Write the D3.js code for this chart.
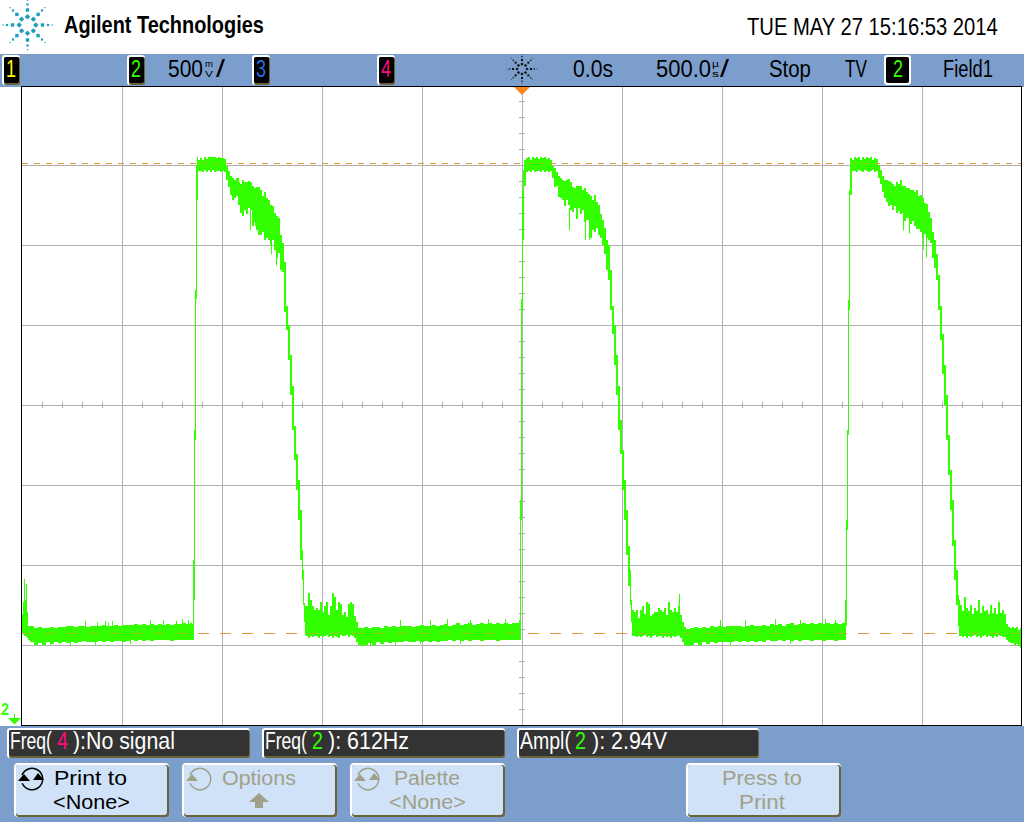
<!DOCTYPE html>
<html><head><meta charset="utf-8">
<script src="https://cdn.jsdelivr.net/npm/d3@7/dist/d3.min.js"></script>
<style>html,body{margin:0;padding:0;background:#fff;overflow:hidden}svg{display:block}text{font-family:"Liberation Sans",Arial,sans-serif}</style>
</head><body><svg id="c" width="1024" height="822"></svg>
<script>
// Channel 2 trace: [time in microseconds, upper edge in volts, lower edge in volts]
const trace1=[[-2500,.66,.54],[-2495,.74,.54],[-2490,.88,.525],[-2485,.75,.525],[-2480,.85,.52],[-2475,.675,.51],[-2470,.59,.50],[-2460,.585,.49],[-2440,.575,.47],[-2420,.58,.48],[-2400,.575,.47],[-2380,.575,.49],[-2360,.58,.475],[-2340,.575,.49],[-2320,.58,.48],[-2300,.58,.49],[-2280,.59,.48],[-2260,.585,.49],[-2240,.58,.48],[-2220,.59,.49],[-2200,.585,.495],[-2180,.58,.49],[-2160,.59,.49],[-2140,.59,.49],[-2120,.59,.495],[-2100,.595,.49],[-2080,.585,.495],[-2060,.59,.49],[-2040,.595,.495],[-2020,.59,.495],[-2000,.595,.49],[-1980,.595,.495],[-1960,.595,.50],[-1940,.60,.495],[-1920,.595,.50],[-1900,.60,.495],[-1880,.595,.50],[-1860,.60,.495],[-1840,.595,.50],[-1820,.60,.50],[-1800,.595,.50],[-1780,.60,.50],[-1760,.595,.495],[-1740,.60,.50],[-1720,.60,.50],[-1700,.605,.50],[-1680,.60,.50],[-1660,.605,.50],[-1650,.60,.50],
[-1645,1.0,.50],[-1640,1.81,.75],[-1635,2.69,1.75],[-1630,3.47,2.63],[-1625,3.52,3.25],[-1620,3.50,3.43],[-1610,3.51,3.43],[-1600,3.50,3.425],[-1590,3.52,3.44],[-1580,3.505,3.425],[-1570,3.52,3.44],[-1560,3.52,3.425],[-1550,3.52,3.44],[-1540,3.52,3.425],[-1530,3.51,3.43],[-1520,3.52,3.43],[-1510,3.51,3.425],[-1500,3.51,3.43],[-1490,3.505,3.425],
[-1480,3.46,3.375],[-1470,3.43,3.33],[-1460,3.40,3.28],[-1450,3.39,3.25],[-1440,3.375,3.26],[-1430,3.39,3.275],[-1420,3.36,3.22],[-1410,3.35,3.17],[-1400,3.375,3.15],[-1390,3.36,3.19],[-1380,3.36,3.16],[-1370,3.37,3.20],[-1360,3.36,3.19],[-1350,3.34,3.09],[-1340,3.325,3.11],[-1330,3.33,3.06],[-1320,3.33,3.03],[-1310,3.31,3.03],[-1300,3.275,3.05],[-1290,3.30,3.00],[-1280,3.26,3.01],[-1270,3.25,3.00],[-1260,3.22,2.97],[-1250,3.21,3.00],[-1240,3.17,2.94],[-1230,3.15,2.89],[-1220,3.14,2.92],[-1210,3.03,2.81],[-1200,2.98,2.80],[-1190,2.86,2.55],[-1180,2.59,2.44],[-1170,2.47,2.25],[-1160,2.28,2.03],[-1150,2.09,1.81],[-1140,1.84,1.625],[-1130,1.66,1.44],[-1120,1.50,1.25],[-1110,1.31,1.00],[-1100,1.06,.875],[-1095,.94,.72],[-1090,.73,.61],[-1085,.71,.53],
[-1080,.71,.525],[-1070,.795,.51],[-1060,.75,.525],[-1050,.71,.52],[-1040,.69,.525],[-1030,.70,.525],[-1020,.69,.51],[-1010,.735,.525],[-1000,.675,.52],[-990,.71,.525],[-980,.74,.53],[-970,.655,.52],[-960,.71,.525],[-950,.795,.51],[-940,.77,.525],[-930,.69,.52],[-920,.735,.51],[-910,.725,.53],[-900,.655,.525],[-890,.675,.525],[-880,.645,.53],[-870,.725,.52],[-860,.735,.53],[-850,.725,.525],[-840,.65,.51],[-830,.61,.49],[-820,.575,.47],[-810,.575,.46],
[-790,.58,.47],[-770,.575,.48],[-750,.58,.47],[-730,.58,.49],[-710,.575,.475],[-690,.585,.49],[-670,.58,.48],[-650,.585,.49],[-630,.58,.485],[-610,.59,.49],[-590,.585,.495],[-570,.59,.49],[-550,.58,.49],[-530,.59,.495],[-510,.595,.49],[-490,.585,.495],[-470,.59,.49],[-450,.595,.495],[-430,.59,.49],[-410,.595,.495],[-390,.60,.495],[-370,.59,.50],[-350,.595,.495],[-330,.605,.50],[-310,.595,.495],[-290,.60,.50],[-270,.605,.495],[-250,.595,.50],[-230,.60,.50],[-210,.605,.495],[-190,.60,.50],[-170,.605,.50],[-150,.60,.50],[-130,.605,.495],[-110,.60,.50],[-90,.605,.50],[-70,.60,.50],[-50,.605,.50]];
const trace2=[[-30,.605,.50],[-15,.625,.50],[-10,1.375,.50],[-5,2.63,1.25],[0,3.31,2.56],[5,3.44,3.00],[10,3.50,3.34],[20,3.51,3.425],[30,3.52,3.43],[40,3.50,3.425],[50,3.52,3.44],[60,3.51,3.425],[70,3.52,3.43],[80,3.505,3.43],[90,3.52,3.425],[100,3.51,3.44],[110,3.52,3.425],[120,3.505,3.43],[130,3.51,3.425],[140,3.50,3.43],
[150,3.46,3.39],[160,3.45,3.33],[170,3.425,3.34],[180,3.40,3.27],[190,3.39,3.26],[200,3.375,3.25],[210,3.37,3.21],[220,3.375,3.25],[230,3.38,3.22],[240,3.36,3.19],[250,3.33,3.175],[260,3.325,3.20],[270,3.34,3.13],[280,3.34,3.20],[290,3.34,3.16],[300,3.31,3.19],[310,3.325,3.11],[320,3.30,3.125],[330,3.29,3.125],[340,3.275,3.01],[350,3.25,3.06],[360,3.28,3.05],[370,3.24,3.075],[380,3.22,3.03],[390,3.16,3.01],[400,3.125,2.97],[410,3.075,2.91],[420,3.00,2.81],[430,2.97,2.75],[440,2.81,2.56],[450,2.59,2.41],[460,2.47,2.22],[470,2.28,2.03],[480,2.09,1.81],[490,1.875,1.66],[500,1.69,1.44],[510,1.50,1.25],[520,1.31,1.03],[530,1.09,.84],[540,.94,.72],[545,.75,.61],
[550,.69,.525],[560,.675,.525],[570,.69,.52],[580,.64,.525],[590,.69,.52],[600,.71,.525],[610,.66,.53],[620,.735,.52],[630,.725,.525],[640,.65,.51],[650,.665,.525],[660,.675,.53],[670,.675,.52],[680,.70,.525],[690,.69,.525],[700,.675,.51],[710,.70,.525],[720,.655,.52],[730,.74,.525],[740,.69,.51],[750,.675,.525],[760,.70,.52],[770,.675,.525],[780,.715,.53],[785,.79,.525],[790,.655,.51],[800,.61,.49],[810,.58,.47],[820,.57,.46],
[840,.575,.47],[860,.58,.48],[880,.575,.47],[900,.58,.485],[920,.575,.475],[940,.585,.49],[960,.58,.48],[980,.59,.485],[1000,.58,.49],[1020,.585,.485],[1040,.59,.49],[1060,.585,.495],[1080,.59,.49],[1100,.58,.495],[1120,.59,.49],[1140,.595,.495],[1160,.585,.49],[1180,.59,.495],[1200,.595,.49],[1220,.59,.50],[1240,.60,.495],[1260,.595,.495],[1280,.60,.50],[1300,.59,.495],[1320,.60,.50],[1340,.605,.495],[1360,.595,.50],[1380,.60,.495],[1400,.605,.50],[1420,.60,.50],[1440,.605,.495],[1460,.60,.50],[1480,.605,.50],[1500,.60,.495],[1520,.605,.50],[1540,.60,.50],[1560,.605,.495],[1580,.60,.50],[1600,.605,.50]];
const trace3=[[1615,.75,.50],[1620,1.25,.59],[1625,1.81,1.19],[1630,2.625,1.78],[1635,3.31,2.56],[1640,3.515,3.28],[1650,3.50,3.43],[1660,3.52,3.43],[1670,3.51,3.425],[1680,3.52,3.44],[1690,3.50,3.43],[1700,3.52,3.425],[1710,3.505,3.44],[1720,3.52,3.43],[1730,3.51,3.425],[1740,3.52,3.43],[1750,3.50,3.44],[1760,3.515,3.425],[1770,3.505,3.43],
[1780,3.47,3.39],[1790,3.44,3.35],[1800,3.40,3.30],[1810,3.375,3.26],[1820,3.375,3.24],[1830,3.37,3.21],[1840,3.36,3.22],[1850,3.35,3.19],[1860,3.34,3.21],[1870,3.36,3.17],[1880,3.35,3.18],[1890,3.375,3.16],[1900,3.34,3.17],[1910,3.34,3.12],[1920,3.325,3.135],[1930,3.325,3.135],[1940,3.31,3.10],[1950,3.31,3.12],[1960,3.30,3.085],[1970,3.31,3.07],[1980,3.275,3.07],[1990,3.28,3.05],[2000,3.26,3.01],[2010,3.23,3.035],[2020,3.225,3.01],[2030,3.175,3.00],[2040,3.14,2.98],[2050,3.05,2.89],[2060,3.00,2.825],[2070,2.91,2.75],[2080,2.78,2.56],[2090,2.59,2.375],[2100,2.41,2.16],[2110,2.22,1.97],[2120,2.03,1.75],[2130,1.78,1.53],[2140,1.56,1.31],[2150,1.375,1.09],[2160,1.125,.875],[2170,.94,.72],[2180,.78,.59],[2185,.75,.525],
[2190,.72,.525],[2200,.68,.52],[2210,.77,.525],[2220,.70,.51],[2230,.68,.525],[2240,.72,.52],[2250,.66,.525],[2260,.70,.53],[2270,.68,.52],[2280,.75,.525],[2290,.67,.51],[2300,.71,.525],[2310,.68,.53],[2320,.69,.52],[2330,.66,.525],[2340,.72,.525],[2350,.67,.51],[2360,.70,.525],[2370,.66,.52],[2380,.74,.53],[2390,.67,.525],[2400,.69,.52],[2410,.66,.52],[2420,.60,.50],[2430,.58,.49],[2440,.575,.48],[2450,.58,.48],[2460,.575,.47],[2470,.58,.475],[2480,.56,.46],[2490,.575,.45],[2500,.57,.45]];
// Single-sample glitches that stick out of the band: [time us, volts, volts]
const glitches=[[-2185,.62,.55],[-2125,.61,.55],[-2085,.62,.55],[-2070,.61,.55],[-2050,.62,.55],[-1860,.625,.55],[-1795,.625,.55],[-1730,.62,.55],[-1700,.63,.55],[-1670,.625,.55],[-610,.625,.55],[-460,.625,.55],[-375,.63,.55],[-260,.625,.55],[-170,.63,.55],[-85,.63,.55],[990,.625,.55],[1115,.625,.55],[1265,.63,.55],[1390,.625,.55],[1515,.63,.55],[1565,.625,.55],
[-2360,.55,.47],[-2260,.55,.46],[-2135,.55,.47],[-1960,.55,.475],[-760,.55,.46],[-635,.55,.47],[-510,.55,.475],[-310,.55,.475],[890,.55,.46],[1040,.55,.47],[1340,.55,.475],
[-1360,3.25,3.06],[-1335,3.19,3.09],[-1255,3.00,2.91],[-1230,3.00,2.84],[-1420,3.39,3.30],[235,3.20,3.06],[315,3.19,3.00],[335,3.20,3.00],[1905,3.22,3.06],[1935,3.20,3.04],[1965,3.20,3.09],[2005,3.06,2.94],[2020,3.05,2.89]];
const yTicks=[-.03125,.46875,.96875,1.46875,1.96875,2.46875,2.96875,3.46875,3.96875];
const xTicks=[-2000,-1500,-1000,-500,0,500,1000,1500,2000];
const cursorLevels=[3.48,0.544];
const channels=[["1","#ffff00"],["2","#33ff00"],["3","#2a6ae0"],["4","#ff0a80"]];
const meas=[["Freq(","4",":No signal"],["Freq(","2",": 612Hz"],["Ampl(","2",": 2.94V"]];
const softkeys=[["Print to","<None>"],["Options",""],["Palette","<None>"],["Press to","Print"]];
const headerTitle="Agilent Technologies",headerDate="TUE MAY 27 15:16:53 2014";

const svg=d3.select("#c");
const T="#000",BLUE="#7b9ecc",OLIVE="#6a6238",GREEN="#33ff00",GREY="#a0a088",ORANGE="#e8963c";
const x=d3.scaleLinear().domain([-2500,2500]).range([22,1022]);
const y=d3.scaleLinear().domain([-.03125,3.96875]).range([725,85]);
const rect=(a,b,w,h,f,r)=>svg.append("rect").attr("x",a).attr("y",b).attr("width",w).attr("height",h).attr("fill",f).attr("rx",r||0);
// text squeezed horizontally to its measured width on the screen
function txt(s,a,b,w,size,fill,weight){const t=svg.append("text").attr("font-size",size).attr("fill",fill||T)
 .attr("font-weight",weight||400).text(s);const n=t.node().getComputedTextLength()||w;
 t.attr("transform",`translate(${a},${b}) scale(${w/n},1)`);return t;}

// frame
rect(0,54,1024,33,BLUE);rect(0,726,1024,96,BLUE);
// grid via axes
const g=svg.append("g");
const grid=(sel,ax)=>{sel.call(ax);sel.select(".domain").remove();sel.selectAll("line").attr("stroke","#b0b0b0");};
grid(g.append("g").attr("transform","translate(0,725)"),d3.axisTop(x).tickValues(xTicks).tickSize(639).tickFormat(""));
grid(g.append("g").attr("transform","translate(22,0)"),d3.axisRight(y).tickValues(yTicks.slice(1,-1)).tickSize(999).tickFormat(""));
const subX=d3.range(-2500,2501,100).filter(v=>v%500),subY=d3.range(-.03125,3.97,.1).filter((v,i)=>i%5);
const cy=y(1.96875),cx=x(0);
[d3.axisBottom,d3.axisTop].forEach(a=>grid(g.append("g").attr("transform",`translate(0,${cy})`),a(x).tickValues(subX).tickSize(3).tickFormat("")));
[d3.axisRight,d3.axisLeft].forEach(a=>grid(g.append("g").attr("transform",`translate(${cx},0)`),a(y).tickValues(subY).tickSize(3).tickFormat("")));
// cursors: solid on white, faint where they cross the trace
const cursor=(op)=>cursorLevels.forEach((v,i)=>svg.append("line").attr("x1",22).attr("x2",1021).attr("y1",Math.round(y(v))+.5).attr("y2",Math.round(y(v))+.5)
 .attr("stroke",ORANGE).attr("stroke-opacity",op).attr("stroke-width",1).attr("stroke-dasharray",i?"11 11":"6 6").attr("shape-rendering","crispEdges"));
cursor(1);
// trace
const rows=[...trace1,...trace2,...trace3];
svg.append("path").datum(rows).attr("fill",GREEN).attr("stroke","none").attr("shape-rendering","crispEdges")
 .attr("d",d3.area().x(d=>x(d[0])).y0(d=>y(d[2])).y1(d=>y(d[1])).curve(d3.curveStepAfter));
svg.append("g").selectAll("line").data(glitches).join("line").attr("x1",d=>x(d[0])+.5).attr("x2",d=>x(d[0])+.5)
 .attr("y1",d=>y(d[1])).attr("y2",d=>y(d[2])).attr("stroke",GREEN).attr("stroke-width",1);
cursor(.55);
// plot border
rect(21,86,1000,1,"#000");rect(21,725,1001,1,"#000");rect(21,86,1,640,"#000");rect(1021,86,1,640,"#000");

// trigger marker and ground marker
svg.append("path").attr("fill","#f5891e").attr("d","M514 87H530L522 95Z");
svg.append("path").attr("fill",GREEN).attr("d","M8 718H21L14.5 724.5Z");
svg.append("rect").attr("x",14).attr("y",714).attr("width",1).attr("height",5).attr("fill",GREEN);
txt("2",1,715,8,16,GREEN,700);

// logos
function star(cx0,cy0,sc,col){const rings=[[8.3,2.7,1],[15,3.4,0],[20.5,2.2,0],[24.6,1.2,0]];
 const gs=svg.append("g").attr("fill",col);
 rings.forEach(([r,s,diamond])=>d3.range(8).forEach(k=>{const a=k*Math.PI/4,px=cx0+sc*r*Math.cos(a),py=cy0+sc*r*Math.sin(a),w=s*sc;
  if(diamond)gs.append("path").attr("d",`M${px-w} ${py}L${px} ${py-w}L${px+w} ${py}L${px} ${py+w}Z`);
  else gs.append("rect").attr("x",px-w/2).attr("y",py-w/2).attr("width",w).attr("height",w);}));}
star(27.5,25,1,"#1f9dbd");star(522,69,.6,"#111");
txt(headerTitle,64,33,200,23,"#000",700);
txt(headerDate,747,35,251,24,"#000");

// channel boxes
function chan(a,w,label,col){rect(a,55,w,30,"#fff",3);rect(a+2,57,w-2,28,OLIVE,2);rect(a+2,57,w-3,26,"#000",2);
 txt(label,a+(w-10)/2,77,10,24,col);}
[2,127,252,377].forEach((a,i)=>chan(a,18,channels[i][0],channels[i][1]));
rect(884,55,27,30,"#fff",3);rect(886,57,23,26,"#000",2);txt("2",893,77,10,24,GREEN);

// top bar text
txt("500",168,77,35,24);txt("m",205,67,8,9);txt("V",205,77,8,9);txt("/",216,77,9,24);
txt("0.0s",573,77,40,24);txt("500.0",656,77,55,24);txt("\u00b5",712,67,7,9);txt("s",712,77,7,9);txt("/",720,77,9,24);
txt("Stop",769,77,42,24);txt("TV",845,77,22,24);txt("Field1",943,77,50,24);

// measurement boxes
function measure(a,w,m,p){const [A,B,C]=m,col=B==="4"?"#ff0a80":GREEN;
 rect(a,728,w,30,"#fff",3);rect(a+2,730,w-2,28,OLIVE,2);rect(a+2,730,w-3,26,"#333",2);
 txt(A,a+3,749,p[0],24,"#fff");txt(B,a+p[1],749,11,24,col);
 txt(")"+C,a+p[2],749,p[3],24,"#fff");}
measure(7,243,meas[0],[42,50,66,102]);measure(262,243,meas[1],[42,50,66,81]);measure(517,242,meas[2],[51,58,75,75]);

// softkeys
function key(a,w,col,two){rect(a,763,w,54,"#fff",4);rect(a+2,765,w-2,52,OLIVE,3);rect(a+2,765,w-4,50,"#d0e2f8",3);
 if(two!==undefined){const cx0=a+18,cy0=779,r=11;
  const arc=d3.arc().innerRadius(r-1).outerRadius(r+.5).startAngle(-1.2).endAngle(4.3);
  svg.append("path").attr("transform",`translate(${cx0},${cy0})`).attr("fill",col).attr("d",arc());
  svg.append("path").attr("fill",col).attr("d",`M${cx0-14} ${cy0+2}L${cx0-8} ${cy0-5}L${cx0-2} ${cy0+2}Z`);
  if(two)svg.append("path").attr("fill",col).attr("d",`M${cx0+1} ${cy0+1}L${cx0+6} ${cy0-6}L${cx0+12} ${cy0+1}Z`);}}
key(14,155,"#000",true);key(182,155,GREY,false);key(350,155,GREY,true);key(686,155,GREY);
txt(softkeys[0][0],54,785,73,21,"#000");txt(softkeys[0][1],53,809,77,21,"#000");
txt(softkeys[1][0],222,785,74,21,GREY);svg.append("path").attr("fill",GREY).attr("d","M249 802L259 793L269 802H263V808H255V802Z");
txt(softkeys[2][0],394,785,66,21,GREY);txt(softkeys[2][1],389,809,77,21,GREY);
txt(softkeys[3][0],722,785,80,21,GREY);txt(softkeys[3][1],739,809,46,21,GREY);
</script></body></html>
